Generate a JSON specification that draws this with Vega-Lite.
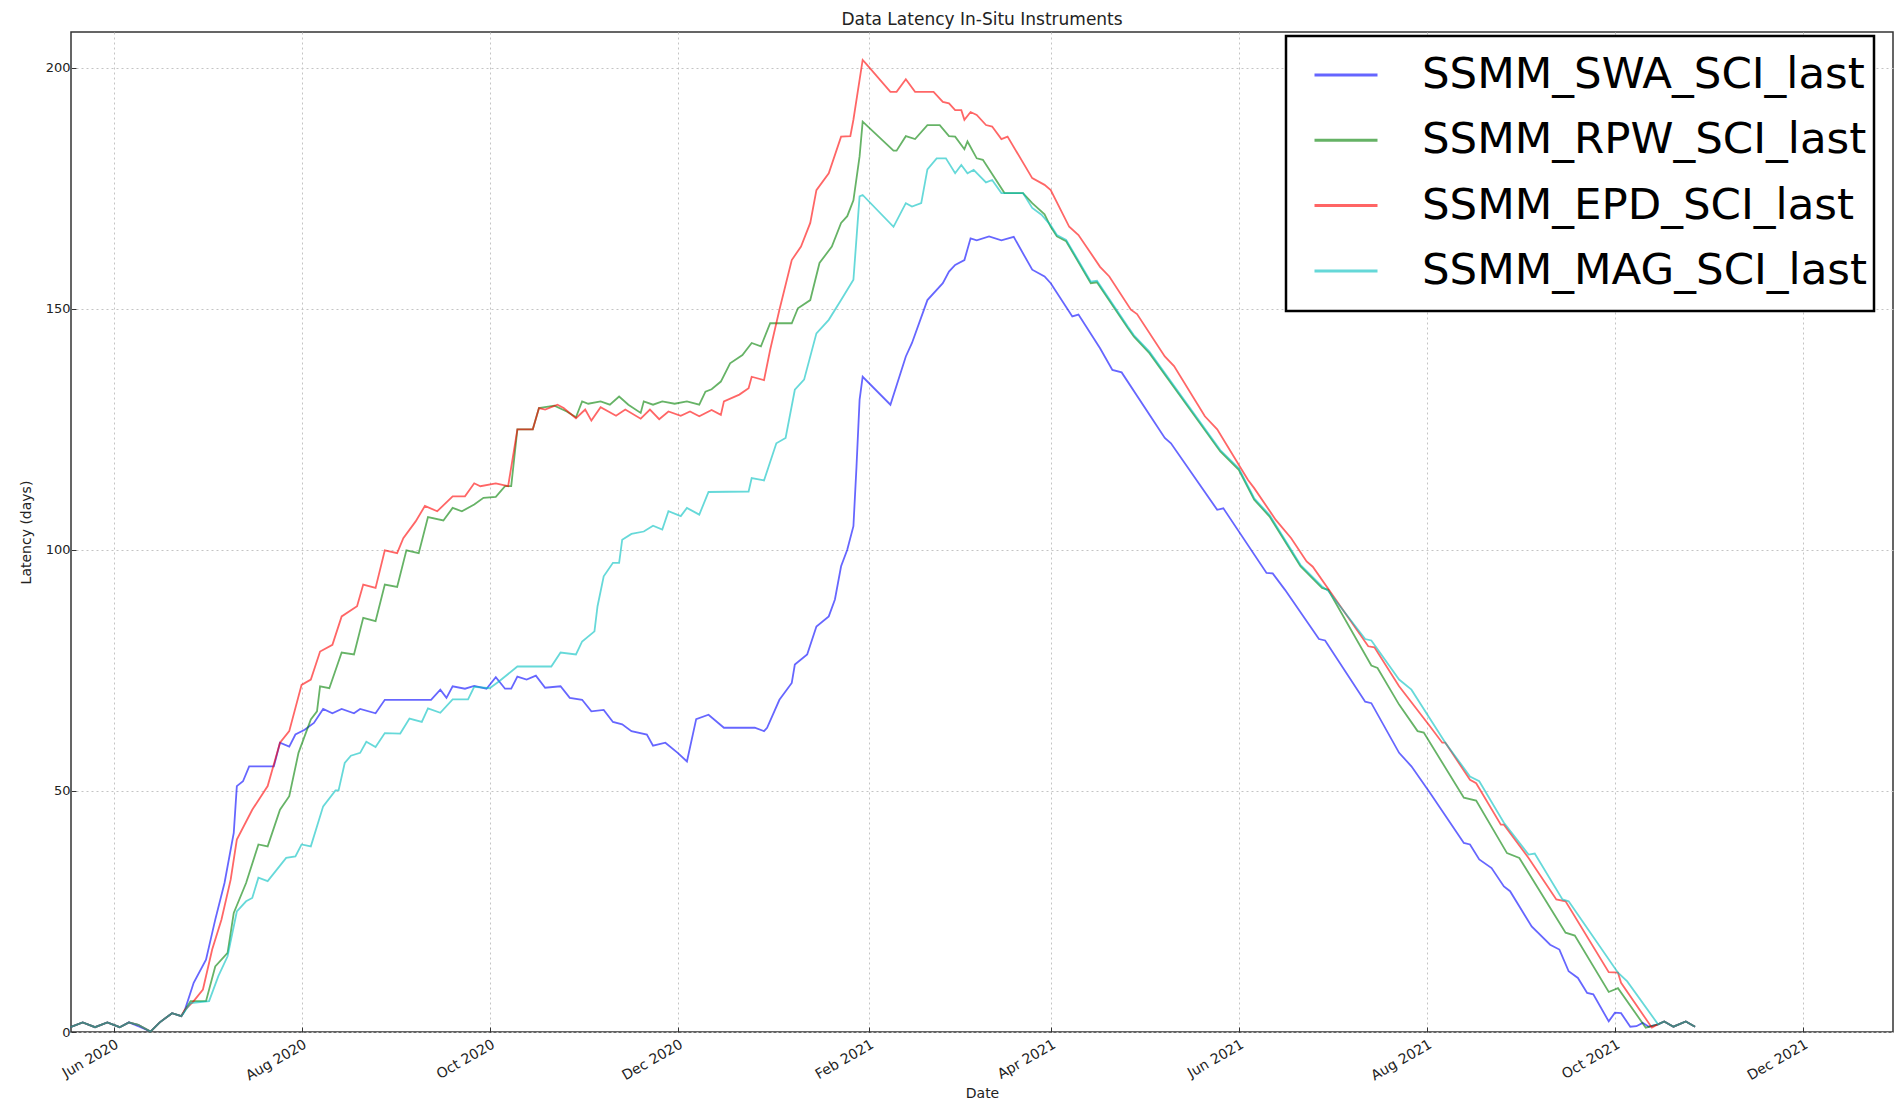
{
"$schema": "https://vega.github.io/schema/vega-lite/v6.json",
"width": 1822, "height": 1000,
"autosize": {"type": "none"},
"padding": {"left": 71, "top": 32, "right": 4, "bottom": 66},
"background": "white",
"title": {"text": "Data Latency In-Situ Instruments", "fontSize": 17, "font": "DejaVu Sans", "fontWeight": "normal", "color": "#222", "anchor": "middle", "offset": 3},
"config": {"view": {"stroke": "#333", "strokeWidth": 1.5}, "font": "DejaVu Sans", "legend": {"strokeWidth": 2.5}},
"datasets": {
"swa": [
{"date":"2020-05-18","latency":1.0},{"date":"2020-05-22","latency":2.0},{"date":"2020-05-26","latency":1.0},{"date":"2020-05-30","latency":2.0},{"date":"2020-06-03","latency":1.0},{"date":"2020-06-06","latency":2.0},{"date":"2020-06-09","latency":1.2},{"date":"2020-06-13","latency":0.1},{"date":"2020-06-16","latency":2.0},{"date":"2020-06-20","latency":3.9},{"date":"2020-06-23","latency":3.3},
{"date":"2020-06-24","latency":4.3},{"date":"2020-06-27","latency":10.2},{"date":"2020-07-01","latency":15.0},{"date":"2020-07-04","latency":23.3},{"date":"2020-07-07","latency":30.9},{"date":"2020-07-10","latency":41.3},{"date":"2020-07-11","latency":51.0},{"date":"2020-07-13","latency":52.0},{"date":"2020-07-15","latency":55.1},{"date":"2020-07-23","latency":55.1},{"date":"2020-07-25","latency":60.0},{"date":"2020-07-28","latency":59.2},{"date":"2020-07-30","latency":61.7},{"date":"2020-08-02","latency":62.7},{"date":"2020-08-05","latency":64.1},{"date":"2020-08-08","latency":67.0},{"date":"2020-08-11","latency":66.1},{"date":"2020-08-14","latency":67.0},{"date":"2020-08-18","latency":66.1},{"date":"2020-08-20","latency":67.0},{"date":"2020-08-25","latency":66.1},{"date":"2020-08-28","latency":68.9},{"date":"2020-09-12","latency":68.9},{"date":"2020-09-15","latency":71.0},{"date":"2020-09-17","latency":69.3},{"date":"2020-09-19","latency":71.7},{"date":"2020-09-23","latency":71.2},{"date":"2020-09-26","latency":71.8},{"date":"2020-09-30","latency":71.2},{"date":"2020-10-03","latency":73.6},{"date":"2020-10-06","latency":71.2},{"date":"2020-10-08","latency":71.2},{"date":"2020-10-10","latency":73.7},{"date":"2020-10-13","latency":73.1},{"date":"2020-10-16","latency":73.9},{"date":"2020-10-19","latency":71.4},{"date":"2020-10-24","latency":71.7},{"date":"2020-10-27","latency":69.3},{"date":"2020-10-31","latency":68.9},{"date":"2020-11-03","latency":66.5},{"date":"2020-11-07","latency":66.8},{"date":"2020-11-10","latency":64.3},{"date":"2020-11-13","latency":63.8},{"date":"2020-11-16","latency":62.4},{"date":"2020-11-21","latency":61.7},{"date":"2020-11-23","latency":59.4},{"date":"2020-11-27","latency":60.0},{"date":"2020-12-01","latency":57.9},{"date":"2020-12-04","latency":56.1},{"date":"2020-12-07","latency":64.9},{"date":"2020-12-11","latency":65.8},{"date":"2020-12-16","latency":63.1},{"date":"2020-12-26","latency":63.1},{"date":"2020-12-29","latency":62.4},{"date":"2020-12-30","latency":63.1},{"date":"2021-01-03","latency":68.9},{"date":"2021-01-07","latency":72.4},{"date":"2021-01-08","latency":76.2},{"date":"2021-01-12","latency":78.3},{"date":"2021-01-15","latency":84.1},{"date":"2021-01-19","latency":86.2},{"date":"2021-01-21","latency":89.7},{"date":"2021-01-23","latency":96.6},{"date":"2021-01-25","latency":100.0},{"date":"2021-01-27","latency":104.9},{"date":"2021-01-28","latency":117.3},{"date":"2021-01-29","latency":131.1},{"date":"2021-01-30","latency":135.9},{"date":"2021-02-08","latency":130.1},{"date":"2021-02-13","latency":140.1},{"date":"2021-02-15","latency":142.9},{"date":"2021-02-20","latency":151.8},{"date":"2021-02-25","latency":155.3},{"date":"2021-02-27","latency":157.7},{"date":"2021-03-01","latency":159.1},{"date":"2021-03-04","latency":160.1},{"date":"2021-03-06","latency":164.6},{"date":"2021-03-08","latency":164.2},{"date":"2021-03-12","latency":165.0},{"date":"2021-03-16","latency":164.2},{"date":"2021-03-20","latency":164.9},{"date":"2021-03-26","latency":158.1},{"date":"2021-03-30","latency":156.7},{"date":"2021-04-01","latency":155.3},{"date":"2021-04-08","latency":148.4},{"date":"2021-04-10","latency":148.8},{"date":"2021-04-17","latency":141.8},{"date":"2021-04-21","latency":137.3},{"date":"2021-04-24","latency":136.8},{"date":"2021-05-08","latency":123.2},{"date":"2021-05-10","latency":122.1},{"date":"2021-05-25","latency":108.3},{"date":"2021-05-27","latency":108.6},{"date":"2021-06-10","latency":95.2},{"date":"2021-06-12","latency":95.1},{"date":"2021-06-16","latency":91.7},{"date":"2021-06-27","latency":81.5},{"date":"2021-06-29","latency":81.2},{"date":"2021-07-12","latency":68.5},{"date":"2021-07-14","latency":68.2},{"date":"2021-07-23","latency":57.9},{"date":"2021-07-27","latency":55.1},{"date":"2021-08-02","latency":49.6},{"date":"2021-08-13","latency":39.2},{"date":"2021-08-15","latency":38.9},{"date":"2021-08-18","latency":35.8},{"date":"2021-08-22","latency":34.0},{"date":"2021-08-26","latency":30.2},{"date":"2021-08-28","latency":29.2},{"date":"2021-09-04","latency":21.9},{"date":"2021-09-10","latency":18.1},{"date":"2021-09-13","latency":17.1},{"date":"2021-09-16","latency":12.6},{"date":"2021-09-19","latency":11.2},{"date":"2021-09-22","latency":8.1},{"date":"2021-09-24","latency":7.8},{"date":"2021-09-29","latency":2.2},{"date":"2021-10-01","latency":4.0},{"date":"2021-10-03","latency":3.9},{"date":"2021-10-06","latency":1.1},{"date":"2021-10-08","latency":1.2},{"date":"2021-10-10","latency":1.9},{"date":"2021-10-12","latency":1.1},{"date":"2021-10-15","latency":1.6},{"date":"2021-10-17","latency":2.2},{"date":"2021-10-20","latency":1.1},{"date":"2021-10-24","latency":2.2},{"date":"2021-10-27","latency":1.1}
],
"rpw": [
{"date":"2020-05-18","latency":1.0},{"date":"2020-05-22","latency":2.0},{"date":"2020-05-26","latency":1.0},{"date":"2020-05-30","latency":2.0},{"date":"2020-06-03","latency":1.0},{"date":"2020-06-06","latency":2.0},{"date":"2020-06-09","latency":1.5},{"date":"2020-06-13","latency":0.1},{"date":"2020-06-16","latency":2.0},{"date":"2020-06-20","latency":3.9},{"date":"2020-06-23","latency":3.3},
{"date":"2020-06-26","latency":6.4},{"date":"2020-07-01","latency":6.4},{"date":"2020-07-04","latency":13.6},{"date":"2020-07-08","latency":16.4},{"date":"2020-07-10","latency":24.7},{"date":"2020-07-14","latency":30.9},{"date":"2020-07-18","latency":38.9},{"date":"2020-07-21","latency":38.5},{"date":"2020-07-25","latency":46.1},{"date":"2020-07-28","latency":48.9},{"date":"2020-07-31","latency":57.9},{"date":"2020-08-04","latency":64.8},{"date":"2020-08-06","latency":66.5},{"date":"2020-08-07","latency":71.7},{"date":"2020-08-10","latency":71.3},{"date":"2020-08-14","latency":78.7},{"date":"2020-08-18","latency":78.3},{"date":"2020-08-21","latency":85.9},{"date":"2020-08-25","latency":85.2},{"date":"2020-08-28","latency":92.8},{"date":"2020-09-01","latency":92.3},{"date":"2020-09-04","latency":99.9},{"date":"2020-09-08","latency":99.3},{"date":"2020-09-11","latency":106.8},{"date":"2020-09-16","latency":106.1},{"date":"2020-09-19","latency":108.7},{"date":"2020-09-22","latency":108.0},{"date":"2020-09-26","latency":109.4},{"date":"2020-09-29","latency":110.8},{"date":"2020-10-03","latency":111.0},{"date":"2020-10-06","latency":113.2},{"date":"2020-10-08","latency":113.2},{"date":"2020-10-10","latency":125.0},{"date":"2020-10-15","latency":125.0},{"date":"2020-10-17","latency":129.4},{"date":"2020-10-22","latency":129.9},{"date":"2020-10-26","latency":128.7},{"date":"2020-10-29","latency":127.5},{"date":"2020-10-31","latency":130.8},{"date":"2020-11-02","latency":130.3},{"date":"2020-11-06","latency":130.8},{"date":"2020-11-09","latency":130.1},{"date":"2020-11-12","latency":131.8},{"date":"2020-11-15","latency":130.1},{"date":"2020-11-19","latency":128.4},{"date":"2020-11-20","latency":130.8},{"date":"2020-11-23","latency":130.1},{"date":"2020-11-26","latency":130.8},{"date":"2020-11-30","latency":130.3},{"date":"2020-12-04","latency":130.8},{"date":"2020-12-08","latency":130.1},{"date":"2020-12-10","latency":132.8},{"date":"2020-12-12","latency":133.3},{"date":"2020-12-15","latency":134.9},{"date":"2020-12-18","latency":138.7},{"date":"2020-12-22","latency":140.4},{"date":"2020-12-25","latency":142.9},{"date":"2020-12-28","latency":142.2},{"date":"2020-12-31","latency":147.0},{"date":"2021-01-07","latency":147.0},{"date":"2021-01-09","latency":150.1},{"date":"2021-01-13","latency":151.8},{"date":"2021-01-16","latency":159.5},{"date":"2021-01-20","latency":162.9},{"date":"2021-01-23","latency":167.8},{"date":"2021-01-25","latency":169.2},{"date":"2021-01-27","latency":172.5},{"date":"2021-01-29","latency":181.6},{"date":"2021-01-30","latency":188.8},{"date":"2021-02-09","latency":182.8},{"date":"2021-02-10","latency":182.8},{"date":"2021-02-13","latency":185.8},{"date":"2021-02-16","latency":185.2},{"date":"2021-02-20","latency":188.1},{"date":"2021-02-24","latency":188.1},{"date":"2021-02-27","latency":185.8},{"date":"2021-03-01","latency":185.7},{"date":"2021-03-04","latency":183.1},{"date":"2021-03-05","latency":184.7},{"date":"2021-03-08","latency":181.2},{"date":"2021-03-10","latency":180.9},{"date":"2021-03-17","latency":174.0},{"date":"2021-03-23","latency":174.0},{"date":"2021-03-26","latency":171.9},{"date":"2021-03-30","latency":169.6},{"date":"2021-04-01","latency":167.0},{"date":"2021-04-03","latency":165.0},{"date":"2021-04-06","latency":164.0},{"date":"2021-04-14","latency":155.3},{"date":"2021-04-16","latency":155.5},{"date":"2021-04-26","latency":146.0},{"date":"2021-04-28","latency":144.2},{"date":"2021-05-03","latency":140.8},{"date":"2021-05-17","latency":128.4},{"date":"2021-05-26","latency":120.4},{"date":"2021-06-01","latency":116.6},{"date":"2021-06-06","latency":110.4},{"date":"2021-06-11","latency":106.9},{"date":"2021-06-21","latency":96.6},{"date":"2021-06-28","latency":92.1},{"date":"2021-06-30","latency":91.7},{"date":"2021-07-14","latency":76.0},{"date":"2021-07-16","latency":75.5},{"date":"2021-07-23","latency":67.9},{"date":"2021-07-29","latency":62.4},{"date":"2021-07-31","latency":62.1},{"date":"2021-08-13","latency":48.6},{"date":"2021-08-17","latency":48.0},{"date":"2021-08-27","latency":37.1},{"date":"2021-08-31","latency":36.1},{"date":"2021-09-15","latency":20.6},{"date":"2021-09-18","latency":20.0},{"date":"2021-09-29","latency":8.3},{"date":"2021-10-02","latency":9.1},{"date":"2021-10-11","latency":0.9},{"date":"2021-10-15","latency":1.6},{"date":"2021-10-17","latency":2.2},{"date":"2021-10-20","latency":1.1},{"date":"2021-10-24","latency":2.2},{"date":"2021-10-27","latency":1.1}
],
"epd": [
{"date":"2020-05-18","latency":1.0},{"date":"2020-05-22","latency":2.0},{"date":"2020-05-26","latency":1.0},{"date":"2020-05-30","latency":2.0},{"date":"2020-06-03","latency":1.0},{"date":"2020-06-06","latency":2.0},{"date":"2020-06-09","latency":1.5},{"date":"2020-06-13","latency":0.1},{"date":"2020-06-16","latency":2.0},{"date":"2020-06-20","latency":3.9},{"date":"2020-06-23","latency":3.3},
{"date":"2020-06-24","latency":4.5},{"date":"2020-06-27","latency":6.4},{"date":"2020-06-30","latency":8.8},{"date":"2020-07-03","latency":17.1},{"date":"2020-07-06","latency":23.3},{"date":"2020-07-09","latency":31.6},{"date":"2020-07-11","latency":39.9},{"date":"2020-07-16","latency":46.1},{"date":"2020-07-21","latency":51.0},{"date":"2020-07-25","latency":60.0},{"date":"2020-07-28","latency":62.4},{"date":"2020-08-01","latency":72.0},{"date":"2020-08-04","latency":73.1},{"date":"2020-08-07","latency":78.9},{"date":"2020-08-11","latency":80.3},{"date":"2020-08-14","latency":86.2},{"date":"2020-08-19","latency":88.3},{"date":"2020-08-21","latency":92.8},{"date":"2020-08-25","latency":92.1},{"date":"2020-08-28","latency":99.9},{"date":"2020-09-01","latency":99.3},{"date":"2020-09-03","latency":102.4},{"date":"2020-09-07","latency":105.9},{"date":"2020-09-10","latency":109.1},{"date":"2020-09-14","latency":108.0},{"date":"2020-09-19","latency":111.1},{"date":"2020-09-23","latency":111.1},{"date":"2020-09-26","latency":113.8},{"date":"2020-09-28","latency":113.2},{"date":"2020-10-03","latency":113.8},{"date":"2020-10-07","latency":113.2},{"date":"2020-10-10","latency":125.0},{"date":"2020-10-15","latency":125.0},{"date":"2020-10-17","latency":129.4},{"date":"2020-10-19","latency":129.1},{"date":"2020-10-23","latency":130.1},{"date":"2020-10-25","latency":129.4},{"date":"2020-10-29","latency":127.3},{"date":"2020-11-01","latency":129.1},{"date":"2020-11-03","latency":126.8},{"date":"2020-11-06","latency":129.6},{"date":"2020-11-11","latency":127.8},{"date":"2020-11-14","latency":129.1},{"date":"2020-11-19","latency":127.2},{"date":"2020-11-22","latency":129.1},{"date":"2020-11-25","latency":127.1},{"date":"2020-11-28","latency":128.7},{"date":"2020-12-02","latency":127.8},{"date":"2020-12-05","latency":128.7},{"date":"2020-12-08","latency":127.7},{"date":"2020-12-12","latency":129.0},{"date":"2020-12-15","latency":128.0},{"date":"2020-12-16","latency":130.8},{"date":"2020-12-21","latency":132.2},{"date":"2020-12-24","latency":133.5},{"date":"2020-12-25","latency":135.9},{"date":"2020-12-29","latency":135.2},{"date":"2020-12-31","latency":141.5},{"date":"2021-01-03","latency":149.8},{"date":"2021-01-07","latency":160.1},{"date":"2021-01-10","latency":162.9},{"date":"2021-01-13","latency":167.8},{"date":"2021-01-15","latency":174.6},{"date":"2021-01-19","latency":178.1},{"date":"2021-01-23","latency":185.7},{"date":"2021-01-26","latency":185.8},{"date":"2021-01-27","latency":189.2},{"date":"2021-01-30","latency":201.6},{"date":"2021-01-31","latency":200.9},{"date":"2021-02-08","latency":195.0},{"date":"2021-02-10","latency":195.0},{"date":"2021-02-13","latency":197.6},{"date":"2021-02-16","latency":195.0},{"date":"2021-02-22","latency":195.0},{"date":"2021-02-25","latency":192.9},{"date":"2021-02-27","latency":192.6},{"date":"2021-03-01","latency":191.2},{"date":"2021-03-03","latency":191.2},{"date":"2021-03-04","latency":189.2},{"date":"2021-03-06","latency":190.8},{"date":"2021-03-08","latency":190.2},{"date":"2021-03-11","latency":188.1},{"date":"2021-03-13","latency":187.8},{"date":"2021-03-16","latency":185.2},{"date":"2021-03-18","latency":185.7},{"date":"2021-03-26","latency":177.1},{"date":"2021-03-30","latency":175.7},{"date":"2021-04-01","latency":174.6},{"date":"2021-04-07","latency":167.0},{"date":"2021-04-10","latency":165.3},{"date":"2021-04-17","latency":158.7},{"date":"2021-04-20","latency":156.7},{"date":"2021-04-27","latency":149.8},{"date":"2021-04-29","latency":148.9},{"date":"2021-05-08","latency":140.1},{"date":"2021-05-11","latency":138.1},{"date":"2021-05-21","latency":127.7},{"date":"2021-05-25","latency":125.0},{"date":"2021-06-04","latency":114.5},{"date":"2021-06-06","latency":112.8},{"date":"2021-06-13","latency":106.2},{"date":"2021-06-18","latency":102.4},{"date":"2021-06-23","latency":97.6},{"date":"2021-06-25","latency":96.5},{"date":"2021-07-13","latency":80.0},{"date":"2021-07-15","latency":79.8},{"date":"2021-07-23","latency":71.7},{"date":"2021-08-02","latency":63.4},{"date":"2021-08-06","latency":60.0},{"date":"2021-08-07","latency":60.0},{"date":"2021-08-15","latency":52.3},{"date":"2021-08-17","latency":51.6},{"date":"2021-08-25","latency":43.0},{"date":"2021-08-26","latency":43.0},{"date":"2021-09-03","latency":36.1},{"date":"2021-09-12","latency":27.5},{"date":"2021-09-15","latency":27.1},{"date":"2021-09-29","latency":12.4},{"date":"2021-10-02","latency":12.3},{"date":"2021-10-03","latency":10.2},{"date":"2021-10-13","latency":0.9},{"date":"2021-10-15","latency":1.6},{"date":"2021-10-17","latency":2.2},{"date":"2021-10-20","latency":1.1},{"date":"2021-10-24","latency":2.2},{"date":"2021-10-27","latency":1.1}
],
"mag": [
{"date":"2020-05-18","latency":1.0},{"date":"2020-05-22","latency":2.0},{"date":"2020-05-26","latency":1.0},{"date":"2020-05-30","latency":2.0},{"date":"2020-06-03","latency":1.0},{"date":"2020-06-06","latency":2.0},{"date":"2020-06-09","latency":1.5},{"date":"2020-06-13","latency":0.1},{"date":"2020-06-16","latency":2.0},{"date":"2020-06-20","latency":3.9},{"date":"2020-06-23","latency":3.3},
{"date":"2020-06-26","latency":6.0},{"date":"2020-07-02","latency":6.4},{"date":"2020-07-05","latency":11.6},{"date":"2020-07-08","latency":15.7},{"date":"2020-07-11","latency":25.0},{"date":"2020-07-14","latency":27.1},{"date":"2020-07-16","latency":27.8},{"date":"2020-07-18","latency":32.0},{"date":"2020-07-21","latency":31.3},{"date":"2020-07-27","latency":36.1},{"date":"2020-07-30","latency":36.4},{"date":"2020-08-01","latency":38.9},{"date":"2020-08-04","latency":38.5},{"date":"2020-08-08","latency":46.8},{"date":"2020-08-12","latency":50.1},{"date":"2020-08-13","latency":50.1},{"date":"2020-08-15","latency":55.8},{"date":"2020-08-17","latency":57.3},{"date":"2020-08-20","latency":57.9},{"date":"2020-08-22","latency":60.2},{"date":"2020-08-25","latency":59.1},{"date":"2020-08-28","latency":62.0},{"date":"2020-09-02","latency":61.9},{"date":"2020-09-05","latency":65.0},{"date":"2020-09-09","latency":64.3},{"date":"2020-09-11","latency":67.1},{"date":"2020-09-15","latency":66.2},{"date":"2020-09-19","latency":69.0},{"date":"2020-09-24","latency":69.0},{"date":"2020-09-26","latency":71.6},{"date":"2020-10-01","latency":71.3},{"date":"2020-10-04","latency":72.7},{"date":"2020-10-10","latency":75.8},{"date":"2020-10-21","latency":75.8},{"date":"2020-10-24","latency":78.7},{"date":"2020-10-29","latency":78.3},{"date":"2020-10-31","latency":81.0},{"date":"2020-11-04","latency":83.1},{"date":"2020-11-05","latency":88.3},{"date":"2020-11-07","latency":94.5},{"date":"2020-11-10","latency":97.3},{"date":"2020-11-12","latency":97.3},{"date":"2020-11-13","latency":102.1},{"date":"2020-11-16","latency":103.3},{"date":"2020-11-20","latency":103.8},{"date":"2020-11-23","latency":105.0},{"date":"2020-11-26","latency":104.2},{"date":"2020-11-28","latency":108.0},{"date":"2020-12-02","latency":107.0},{"date":"2020-12-04","latency":108.7},{"date":"2020-12-08","latency":107.3},{"date":"2020-12-11","latency":112.0},{"date":"2020-12-24","latency":112.1},{"date":"2020-12-25","latency":114.9},{"date":"2020-12-29","latency":114.4},{"date":"2021-01-02","latency":122.1},{"date":"2021-01-05","latency":123.2},{"date":"2021-01-08","latency":133.2},{"date":"2021-01-11","latency":135.3},{"date":"2021-01-15","latency":144.9},{"date":"2021-01-19","latency":147.7},{"date":"2021-01-23","latency":151.8},{"date":"2021-01-27","latency":156.0},{"date":"2021-01-29","latency":173.3},{"date":"2021-01-30","latency":173.6},{"date":"2021-02-09","latency":167.0},{"date":"2021-02-13","latency":171.9},{"date":"2021-02-15","latency":171.2},{"date":"2021-02-18","latency":171.9},{"date":"2021-02-20","latency":178.9},{"date":"2021-02-23","latency":181.2},{"date":"2021-02-26","latency":181.2},{"date":"2021-03-01","latency":178.1},{"date":"2021-03-03","latency":179.8},{"date":"2021-03-05","latency":178.1},{"date":"2021-03-07","latency":178.8},{"date":"2021-03-11","latency":176.2},{"date":"2021-03-13","latency":176.7},{"date":"2021-03-16","latency":174.0},{"date":"2021-03-23","latency":174.0},{"date":"2021-03-26","latency":170.9},{"date":"2021-03-29","latency":169.5},{"date":"2021-04-01","latency":167.3},{"date":"2021-04-03","latency":165.3},{"date":"2021-04-06","latency":164.3},{"date":"2021-04-14","latency":155.6},{"date":"2021-04-16","latency":155.8},{"date":"2021-04-26","latency":146.3},{"date":"2021-04-28","latency":144.5},{"date":"2021-05-03","latency":141.1},{"date":"2021-05-17","latency":128.7},{"date":"2021-05-26","latency":120.7},{"date":"2021-06-01","latency":116.9},{"date":"2021-06-06","latency":110.7},{"date":"2021-06-11","latency":107.2},{"date":"2021-06-21","latency":96.9},{"date":"2021-06-28","latency":92.4},{"date":"2021-06-30","latency":91.5},{"date":"2021-07-12","latency":81.5},{"date":"2021-07-14","latency":81.2},{"date":"2021-07-23","latency":73.1},{"date":"2021-07-27","latency":71.0},{"date":"2021-08-07","latency":60.0},{"date":"2021-08-15","latency":53.0},{"date":"2021-08-18","latency":52.0},{"date":"2021-08-26","latency":43.4},{"date":"2021-09-03","latency":36.8},{"date":"2021-09-05","latency":37.0},{"date":"2021-09-14","latency":27.5},{"date":"2021-09-16","latency":27.1},{"date":"2021-10-02","latency":12.3},{"date":"2021-10-05","latency":10.5},{"date":"2021-10-15","latency":1.6},{"date":"2021-10-17","latency":2.2},{"date":"2021-10-20","latency":1.1},{"date":"2021-10-24","latency":2.2},{"date":"2021-10-27","latency":1.1}
]
},
"layer": [
{"data": {"name": "swa"},
 "mark": {"type": "line", "strokeWidth": 1.8, "opacity": 0.6},
 "encoding": {
  "x": {"field": "date", "type": "temporal", "scale": {"type": "utc", "domain": [{"year": 2020, "month": 5, "date": 18, "hours": 5, "utc": true}, {"year": 2021, "month": 12, "date": 30, "hours": 5, "utc": true}], "nice": false},
   "axis": {"title": "Date", "values": [{"year":2020,"month":6,"date":1,"utc":true},{"year":2020,"month":8,"date":1,"utc":true},{"year":2020,"month":10,"date":1,"utc":true},{"year":2020,"month":12,"date":1,"utc":true},{"year":2021,"month":2,"date":1,"utc":true},{"year":2021,"month":4,"date":1,"utc":true},{"year":2021,"month":6,"date":1,"utc":true},{"year":2021,"month":8,"date":1,"utc":true},{"year":2021,"month":10,"date":1,"utc":true},{"year":2021,"month":12,"date":1,"utc":true}],
    "format": "%b %Y", "labelAngle": -30, "labelAlign": "right", "labelBaseline": "top", "labelFontSize": 14, "labelColor": "#222", "labelPadding": 10,
    "grid": true, "gridColor": "#c4c4c4", "gridDash": [2, 3], "gridWidth": 1, "domain": false, "ticks": true, "tickSize": -5, "tickColor": "#333",
    "titleFontSize": 14, "titleFontWeight": "normal", "titleColor": "#222", "titleY": 54, "titleBaseline": "top"}},
  "y": {"field": "latency", "type": "quantitative", "scale": {"domain": [0, 207.4], "nice": false},
   "axis": {"title": "Latency (days)", "values": [0, 50, 100, 150, 200], "labelFontSize": 13, "labelColor": "#222", "labelPadding": 6,
    "grid": true, "gridColor": "#c4c4c4", "gridDash": [2, 3], "gridWidth": 1, "domain": false, "ticks": true, "tickSize": -5, "tickColor": "#333",
    "titleFontSize": 14, "titleFontWeight": "normal", "titleColor": "#222", "titleX": -45, "titleY": 500, "titleAngle": -90, "titleAlign": "center", "titleBaseline": "middle"}},
  "color": {"datum": "SSMM_SWA_SCI_last", "type": "nominal",
   "scale": {"domain": ["SSMM_SWA_SCI_last", "SSMM_RPW_SCI_last", "SSMM_EPD_SCI_last", "SSMM_MAG_SCI_last"], "range": ["#0000ff", "#008000", "#ff0000", "#00bfbf"]},
   "legend": {"orient": "none", "legendX": 1215, "legendY": 4, "title": " ", "titleOrient": "bottom", "titleFontSize": 10, "titlePadding": 3,
    "symbolType": "stroke", "symbolSize": 3969, "symbolStrokeWidth": 3, "symbolOpacity": 1,
    "labelFontSize": 43.5, "labelFont": "DejaVu Sans", "labelColor": "#000", "labelOffset": 43, "symbolOffset": 21, "padding": 6, "rowPadding": 10.3, "labelLimit": 1000,
    "labelExpr": "datum.label + '\u00a0'",
    "strokeColor": "#000", "fillColor": "#fff", "cornerRadius": 0}}
 }},
{"data": {"name": "rpw"},
 "mark": {"type": "line", "strokeWidth": 1.8, "opacity": 0.6},
 "encoding": {"x": {"field": "date", "type": "temporal"}, "y": {"field": "latency", "type": "quantitative"}, "color": {"datum": "SSMM_RPW_SCI_last", "type": "nominal"}}},
{"data": {"name": "epd"},
 "mark": {"type": "line", "strokeWidth": 1.8, "opacity": 0.6},
 "encoding": {"x": {"field": "date", "type": "temporal"}, "y": {"field": "latency", "type": "quantitative"}, "color": {"datum": "SSMM_EPD_SCI_last", "type": "nominal"}}},
{"data": {"name": "mag"},
 "mark": {"type": "line", "strokeWidth": 1.8, "opacity": 0.6},
 "encoding": {"x": {"field": "date", "type": "temporal"}, "y": {"field": "latency", "type": "quantitative"}, "color": {"datum": "SSMM_MAG_SCI_last", "type": "nominal"}}}
]
}
